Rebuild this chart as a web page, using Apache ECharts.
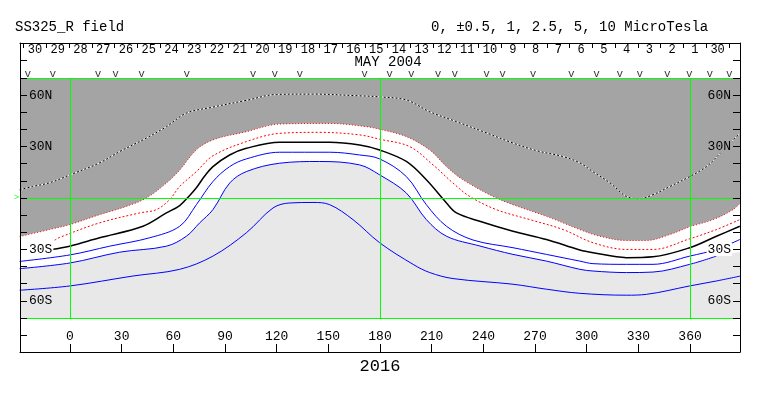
<!DOCTYPE html>
<html>
<head>
<meta charset="utf-8">
<script src="https://cdn.jsdelivr.net/npm/echarts@6/dist/echarts.min.js"></script>
<style>
html,body{margin:0;padding:0;background:#fff;}
#chart{width:763px;height:396px;}
</style>
</head>
<body>
<div id="chart"></div>
<script>
// contour lines, [longitude, latitude]
var zeroLine = [[-29.2,4.8],[-21.7,6.7],[-11.8,8.9],[0,13.5],[17.2,20.5],[28.9,27.1],[44.4,35.0],[56.0,41.6],[67.6,49.5],[82.9,53.0],[102.6,57.0],[120.0,60.4],[140.9,60.6],[168.2,59.6],[179.8,59.0],[195.5,57.1],[208.9,50.3],[224.5,44.5],[242.0,37.9],[257.1,32.1],[271.0,27.6],[286.1,24.2],[296.0,20.5],[303.5,15.4],[313.4,8.9],[323.1,0.9],[330.8,-0.4],[338.4,1.9],[348.3,6.7],[359.8,12.5],[369.5,18.3],[376.1,24.6],[387,35.8],[389.4,37.9]];
var redOuter = [[-29.2,-22.5],[-11.8,-18.4],[0,-15.5],[17.2,-9.7],[32.7,-4.9],[44.4,0],[56.0,8.7],[63.8,16.4],[73.4,28.1],[83.0,33.9],[102.4,38.7],[121.8,43.1],[150.8,43.5],[172.1,41.6],[179.8,40.1],[195.3,35.8],[208.9,28.0],[218.6,18.3],[228.2,10.6],[245.6,0.9],[257.2,-3.9],[276.6,-10.7],[296.0,-18.4],[307.6,-22.3],[323.1,-24.8],[334.7,-24.8],[348.3,-21.3],[359.8,-16.8],[373.4,-12.6],[384.9,-6.8],[389.4,-2.7]];
var redInner = [[-8.9,-24.6],[-6.0,-23.0],[17.2,-14.5],[40.5,-8.7],[50.2,-6.8],[57.8,-1.0],[63.7,6.7],[73.4,15.4],[83.0,24.6],[102.4,32.9],[121.8,37.7],[145.0,38.3],[168.2,36.8],[179.8,34.3],[197.2,30.0],[210.8,19.3],[222.4,8.7],[232.1,0.9],[247.6,-6.8],[267.0,-12.6],[286.3,-18.4],[303.7,-26.1],[323.1,-30.0],[338.5,-30.0],[359.8,-23.8],[375.3,-18.4],[388.9,-12.6]];
var blackLine = [[-10.8,-30.0],[-0.2,-28.1],[17.2,-23.2],[42.4,-16.5],[56.0,-8.7],[63.7,-4.4],[69.5,1.5],[73.4,6.0],[78.0,12.5],[83.0,18.3],[92.7,25.1],[102.4,29.0],[121.8,32.5],[150.8,32.5],[168.2,30.9],[179.8,28.0],[195.3,21.3],[206.9,10.6],[218.6,-2.9],[224.4,-8.7],[237.9,-13.6],[257.2,-19.4],[276.6,-24.2],[296.0,-30.3],[303.7,-31.9],[323.1,-34.8],[338.5,-34.3],[359.8,-29.0],[375.3,-22.3],[388.9,-16.5]];
var blue1 = [[-29.2,-37.0],[0,-33.2],[23.1,-28.1],[46.3,-23.2],[63.7,-16.5],[73.4,-3.9],[83.0,9.6],[92.7,18.3],[102.4,22.8],[121.8,26.7],[150.8,26.7],[168.2,25.1],[179.8,22.8],[195.3,12.5],[206.9,-3.9],[218.6,-16.5],[234.0,-24.5],[257.2,-29.0],[276.6,-32.9],[296.0,-36.8],[303.7,-38.3],[323.1,-38.7],[338.5,-38.7],[359.8,-33.9],[375.3,-30.0],[388.9,-24.2]];
var blue2 = [[-29.2,-41.2],[0,-37.9],[28.9,-31.6],[56.0,-28.1],[67.6,-22.3],[75.3,-14.5],[83.0,-6.8],[92.7,8.7],[102.4,15.4],[121.8,20.3],[145.0,21.3],[168.2,19.3],[179.8,13.5],[195.3,2.9],[206.9,-12.6],[218.6,-22.3],[238.0,-28.0],[257.2,-32.9],[276.6,-36.8],[296.0,-41.6],[303.7,-42.6],[323.1,-43.5],[338.5,-43.2],[359.8,-38.7],[375.3,-33.9]];
var blue3 = [[-29.2,-53.8],[0,-51.3],[36.6,-45.5],[63.7,-41.6],[83.0,-33.9],[102.4,-20.3],[117.9,-5.8],[127.6,-2.9],[141.1,-2.6],[150.8,-3.9],[164.3,-12.6],[179.8,-26.1],[199.2,-38.7],[208.9,-43.5],[222.4,-47.0],[257.2,-50.3],[276.6,-53.2],[296.0,-55.6],[323.1,-56.7],[334.7,-56.2],[359.8,-51.3],[375.3,-48.4],[389.4,-45.5]];
// lower edge of the white band
var shadeEdge = [[-29.2,-41.2],[0,-37.9],[28.9,-31.6],[56.0,-28.1],[67.6,-22.3],[75.3,-14.5],[83.0,-6.8],[92.7,8.7],[102.4,15.4],[121.8,20.3],[145.0,21.3],[168.2,19.3],[179.8,13.5],[195.3,2.9],[206.9,-12.6],[218.6,-22.3],[238.0,-28.0],[257.2,-32.9],[276.6,-36.8],[296.0,-41.6],[303.7,-42.6],[323.1,-43.5],[338.5,-43.2],[359.8,-38.7],[375.3,-33.9],[389.4,-31.5]];

// axis labels
var lonTicks = [0,30,60,90,120,150,180,210,240,270,300,330,360];
var latLabels = [-60,-30,30,60];
var dayLabels = [30,29,28,27,26,25,24,23,22,21,20,19,18,17,16,15,14,13,12,11,10,9,8,7,6,5,4,3,2,1,30];
var dayStart = -26.9, dayStep = 13.21;
var obsMarks = [-24.4,-9.9,16.3,26.5,41.5,67.9,106.3,118.9,133.4,171.1,185.6,198.2,213.7,223.4,241.8,251.1,268.8,291.1,305.7,319.2,330.8,346.8,359.5,371.4,382.8];

var dayTickPos = [], dayLabelPos = [];
for (var i = 0; i <= dayLabels.length; i++) dayTickPos.push(dayStart + i * dayStep);
for (var j = 0; j < dayLabels.length; j++) dayLabelPos.push(dayStart + (j + 0.5) * dayStep);

var FONT = 'Liberation Mono';
var GRAY = '#a4a4a4', LIGHT = '#e8e8e8', GREEN = '#00ff00';

function latText(v) {
	return Math.abs(v) + (v > 0 ? 'N' : 'S');
}
function latLabel(v) {
	var k = v > 0 ? 'g' : (v === -30 ? 'w' : 'l');
	return '{' + k + '|' + latText(v) + '}';
}
var latRich = {
	g: {backgroundColor: GRAY, fontFamily: FONT, fontSize: 13, color: '#000', padding: [0, 1]},
	w: {backgroundColor: '#fff', fontFamily: FONT, fontSize: 13, color: '#000', padding: [0, 1]},
	l: {backgroundColor: LIGHT, fontFamily: FONT, fontSize: 13, color: '#000', padding: [0, 1]}
};

function lineSeries(data, color, type, width) {
	return {
		type: 'line', data: data, symbol: 'none', smooth: 0.35, z: 3,
		silent: true,
		lineStyle: {color: color, type: type, width: width}
	};
}
function sideAxis(grid, pos) {
	return {gridIndex: grid, type: 'value', position: pos, min: 0, max: 1,
		axisLine: {show: true, onZero: false, lineStyle: {color: '#000'}},
		axisTick: {inside: true, length: 7, customValues: [0.5], lineStyle: {color: '#000'}},
		axisLabel: {show: false}, splitLine: {show: false}};
}
function latAxis(pos) {
	return {gridIndex: 0, type: 'value', position: pos, min: -70, max: 70, interval: 10, z: 6,
		axisLine: {show: true, onZero: false, lineStyle: {color: '#000'}},
		axisTick: {inside: true, length: 7, lineStyle: {color: '#000'}},
		axisLabel: {inside: true, margin: 8, customValues: latLabels, formatter: latLabel, rich: latRich},
		splitLine: {show: false}};
}

var chart = echarts.init(document.getElementById('chart'));
var option = {
	animation: false,
	backgroundColor: '#fff',
	grid: [
		{left: 20, top: 78, width: 720, height: 240, show: true, backgroundColor: '#fff', borderWidth: 0},
		{left: 20, top: 43, width: 720, height: 35},
		{left: 20, top: 318, width: 720, height: 34}
	],
	xAxis: [
		{gridIndex: 0, type: 'value', min: -29, max: 389, axisLine: {show: false, onZero: false}, axisTick: {show: false}, axisLabel: {show: false}, splitLine: {show: false}},
		{gridIndex: 1, type: 'value', position: 'top', min: -29, max: 389,
			axisLine: {onZero: false, lineStyle: {color: '#000'}},
			axisTick: {inside: true, length: 5, customValues: dayTickPos, lineStyle: {color: '#000'}},
			axisLabel: {inside: true, margin: 1, customValues: dayLabelPos, fontFamily: FONT, fontSize: 12, color: '#000',
				formatter: function (v) {
					for (var k = 0; k < dayLabelPos.length; k++) if (Math.abs(dayLabelPos[k] - v) < 1e-6) return String(dayLabels[k]);
					return '';
				}},
			splitLine: {show: false}},
		{gridIndex: 2, type: 'value', position: 'bottom', min: -29, max: 389,
			axisLine: {onZero: false, lineStyle: {color: '#000'}},
			axisTick: {inside: true, length: 8, customValues: lonTicks, lineStyle: {color: '#000'}},
			axisLabel: {inside: true, margin: 9, customValues: lonTicks, fontFamily: FONT, fontSize: 13, color: '#000'},
			splitLine: {show: false}}
	],
	yAxis: [
		latAxis('left'),
		latAxis('right'),
		sideAxis(1, 'left'),
		sideAxis(1, 'right'),
		sideAxis(2, 'left'),
		sideAxis(2, 'right')
	],
	graphic: [
		{type: 'text', x: 15, y: 27, style: {text: 'SS325_R field', font: '14px "Liberation Mono"', fill: '#000', textVerticalAlign: 'middle'}},
		{type: 'text', x: 431, y: 27, style: {text: '0, \u00b10.5, 1, 2.5, 5, 10 MicroTesla', font: '14px "Liberation Mono"', fill: '#000', textVerticalAlign: 'middle'}},
		{type: 'text', x: 388, y: 62, style: {text: 'MAY 2004', font: '14px "Liberation Mono"', fill: '#000', textAlign: 'center', textVerticalAlign: 'middle'}},
		{type: 'text', x: 380, y: 366, style: {text: '2016', font: '17px "Liberation Mono"', fill: '#000', textAlign: 'center', textVerticalAlign: 'middle'}}
	],
	series: [
		{type: 'line', data: redOuter, symbol: 'none', smooth: 0.35, z: 1, silent: true,
			lineStyle: {width: 0}, areaStyle: {origin: 'end', color: GRAY, opacity: 1}},
		{type: 'line', data: shadeEdge, symbol: 'none', smooth: 0.35, z: 1, silent: true,
			lineStyle: {width: 0}, areaStyle: {origin: 'start', color: LIGHT, opacity: 1}},
		{type: 'line', data: [], z: 2, silent: true,
			markLine: {silent: true, symbol: 'none', label: {show: false}, animation: false,
				lineStyle: {color: GREEN, type: 'solid', width: 1},
				data: [{xAxis: 0}, {xAxis: 180}, {xAxis: 360}, {yAxis: 0}, {yAxis: 70}, {yAxis: -70}]}},
		lineSeries(zeroLine, '#fff', 'solid', 1),
		lineSeries(zeroLine, '#000', [2, 2], 1),
		lineSeries(redOuter, '#ff0000', [1, 2], 1),
		lineSeries(redInner, '#ff0000', [2, 2], 1),
		lineSeries(blackLine, '#000', 'solid', 1.5),
		lineSeries(blue1, '#0000ff', 'solid', 1),
		lineSeries(blue2, '#0000ff', 'solid', 1),
		lineSeries(blue3, '#0000ff', 'solid', 1),
		{type: 'scatter', xAxisIndex: 1, yAxisIndex: 2, silent: true, symbolSize: 1,
			itemStyle: {color: 'rgba(0,0,0,0)'},
			data: obsMarks.map(function (m) { return [m, 0.12]; }),
			label: {show: true, position: 'inside', formatter: 'v', fontFamily: FONT, fontSize: 11, color: '#000'}},
		{type: 'scatter', silent: true, clip: false, symbolSize: 1, z: 4,
			itemStyle: {color: 'rgba(0,0,0,0)'},
			data: [[-31, 0]],
			label: {show: true, position: 'inside', formatter: '>', fontFamily: FONT, fontSize: 9, color: GREEN}}
	]
};
chart.setOption(option);
</script>
</body>
</html>
